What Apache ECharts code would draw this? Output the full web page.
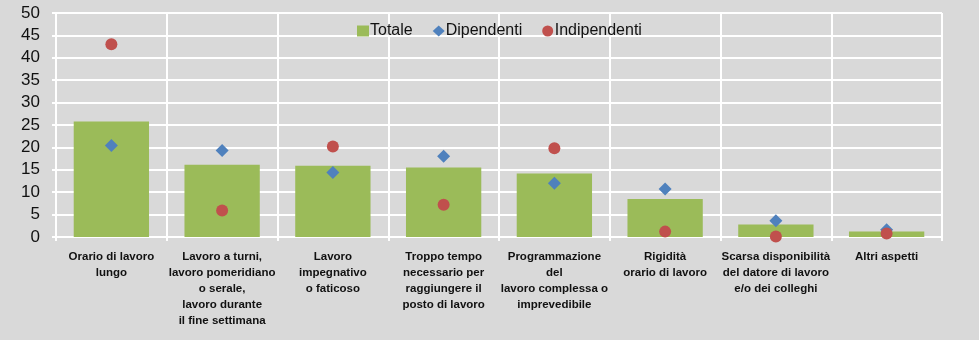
<!DOCTYPE html>
<html>
<head>
<meta charset="utf-8">
<script src="https://cdn.jsdelivr.net/npm/echarts@6/dist/echarts.min.js"></script>
<style>
  html, body { margin: 0; padding: 0; background: #d9d9d9; }
  #chart { width: 979px; height: 340px; }
</style>
</head>
<body>
<div id="chart"></div>
<script>
// Reasons for work-life difficulty, percentage by worker type
const categories = [
  'Orario di lavoro\nlungo',
  'Lavoro a turni,\nlavoro pomeridiano\no serale,\nlavoro durante\nil fine settimana',
  'Lavoro\nimpegnativo\no faticoso',
  'Troppo tempo\nnecessario per\nraggiungere il\nposto di lavoro',
  'Programmazione\ndel\nlavoro complessa o\nimprevedibile',
  'Rigidità\norario di lavoro',
  'Scarsa disponibilità\ndel datore di lavoro\ne/o dei colleghi',
  'Altri aspetti'
];
const totale = [25.8, 16.1, 15.9, 15.5, 14.2, 8.5, 2.8, 1.2];
const dipendenti = [20.4, 19.3, 14.4, 18.0, 12.0, 10.7, 3.6, 1.6];
const indipendenti = [43.0, 5.9, 20.2, 7.2, 19.8, 1.2, 0.1, 0.8];
const seriesNames = ['Totale', 'Dipendenti', 'Indipendenti'];

const narrow = '"Liberation Sans Narrow", "Arial Narrow", "Liberation Sans", Arial, sans-serif';
const chart = echarts.init(document.getElementById('chart'), null, { renderer: 'canvas' });

chart.setOption({
  backgroundColor: '#d9d9d9',
  animation: false,
  grid: { left: 56, right: 37, top: 13, bottom: 103 },
  legend: {
    left: 352,
    top: 18,
    itemGap: 20,
    itemWidth: 12,
    itemHeight: 11,
    data: [
      { name: seriesNames[0], icon: 'rect' },
      { name: seriesNames[1], icon: 'diamond' },
      { name: seriesNames[2], icon: 'circle' }
    ],
    textStyle: { fontFamily: narrow, fontSize: 16, color: '#111', padding: [0, 0, 0, -4] }
  },
  xAxis: {
    type: 'category',
    data: categories,
    axisLine: { show: true, lineStyle: { color: '#ffffff', width: 2 } },
    axisTick: { show: true, length: 4, lineStyle: { color: '#ffffff', width: 2 } },
    splitLine: { show: true, lineStyle: { color: '#ffffff', width: 2 } },
    axisLabel: {
      interval: 0,
      margin: 12,
      fontFamily: '"Liberation Sans", Arial, sans-serif',
      fontWeight: 'bold',
      fontSize: 11.5,
      lineHeight: 16,
      color: '#111',
      align: 'center'
    }
  },
  yAxis: {
    type: 'value',
    min: 0,
    max: 50,
    interval: 5,
    axisLine: { show: true, lineStyle: { color: '#ffffff', width: 2 } },
    axisTick: { show: true, length: 4, lineStyle: { color: '#ffffff', width: 2 } },
    splitLine: { show: true, lineStyle: { color: '#ffffff', width: 2 } },
    axisLabel: { margin: 16, fontFamily: narrow, fontSize: 17, color: '#111' }
  },
  series: [
    {
      name: seriesNames[0],
      type: 'bar',
      data: totale,
      barWidth: '68%',
      itemStyle: { color: '#9bbb59' },
      z: 2
    },
    {
      name: seriesNames[1],
      type: 'scatter',
      data: dipendenti,
      symbol: 'diamond',
      symbolSize: [13, 13],
      itemStyle: { color: '#4f81bd', opacity: 1 },
      z: 3
    },
    {
      name: seriesNames[2],
      type: 'scatter',
      data: indipendenti,
      symbol: 'circle',
      symbolSize: 12,
      itemStyle: { color: '#c0504d', opacity: 1 },
      z: 4
    }
  ]
});
</script>
</body>
</html>
